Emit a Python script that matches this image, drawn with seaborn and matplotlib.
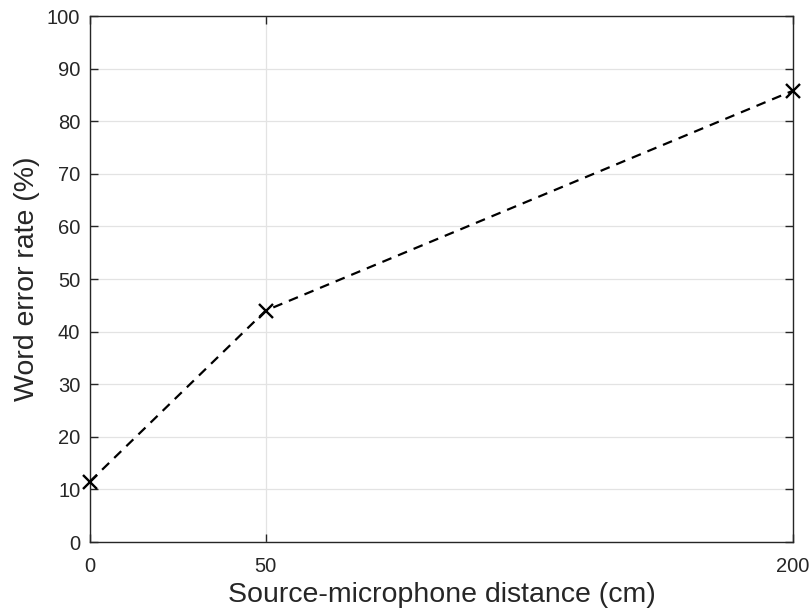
import matplotlib
matplotlib.use("Agg")
import matplotlib.pyplot as plt
import seaborn as sns
import pandas as pd

distance_cm = [0, 50, 200]
wer_percent = [11.5, 44.0, 85.8]
x_ticks = [0, 50, 200]
y_ticks = list(range(0, 101, 10))

sns.set_theme(style="white")
plt.rcParams['font.family'] = ['Liberation Sans', 'DejaVu Sans']

df = pd.DataFrame({"distance": distance_cm, "wer": wer_percent})

fig = plt.figure(figsize=(8.12, 6.15), dpi=100)
ax = fig.add_axes([90/812, 73/615, 703/812, 526/615])

sns.lineplot(data=df, x="distance", y="wer", ax=ax, color="black",
             linewidth=1.6, marker="x", markersize=9.5,
             markeredgewidth=1.7, markeredgecolor="black", dashes=False)
line = ax.lines[0]
line.set_linestyle((0, (4.4, 3.2)))
line.set_clip_on(False)
line.set_zorder(5)

ax.set_xlim(0, 200)
ax.set_ylim(0, 100)
ax.set_xticks(x_ticks)
ax.set_yticks(y_ticks)
ax.grid(True, color="#e3e3e3", linewidth=0.9)
ax.set_axisbelow(True)

for s in ax.spines.values():
    s.set_color("#262626")
    s.set_linewidth(1.0)
ax.tick_params(direction="in", length=6, width=1.0, color="#262626",
               labelcolor="#262626", labelsize=14.5, top=True, right=True,
               left=True, bottom=True)
ax.tick_params(axis='x', pad=11)
ax.tick_params(axis='y', pad=7)

ax.set_xlabel("Source-microphone distance (cm)", fontsize=20.5, color="#262626", labelpad=4)
ax.set_ylabel("Word error rate (%)", fontsize=20.5, color="#262626", labelpad=5)

fig.savefig("out.png", dpi=100)
